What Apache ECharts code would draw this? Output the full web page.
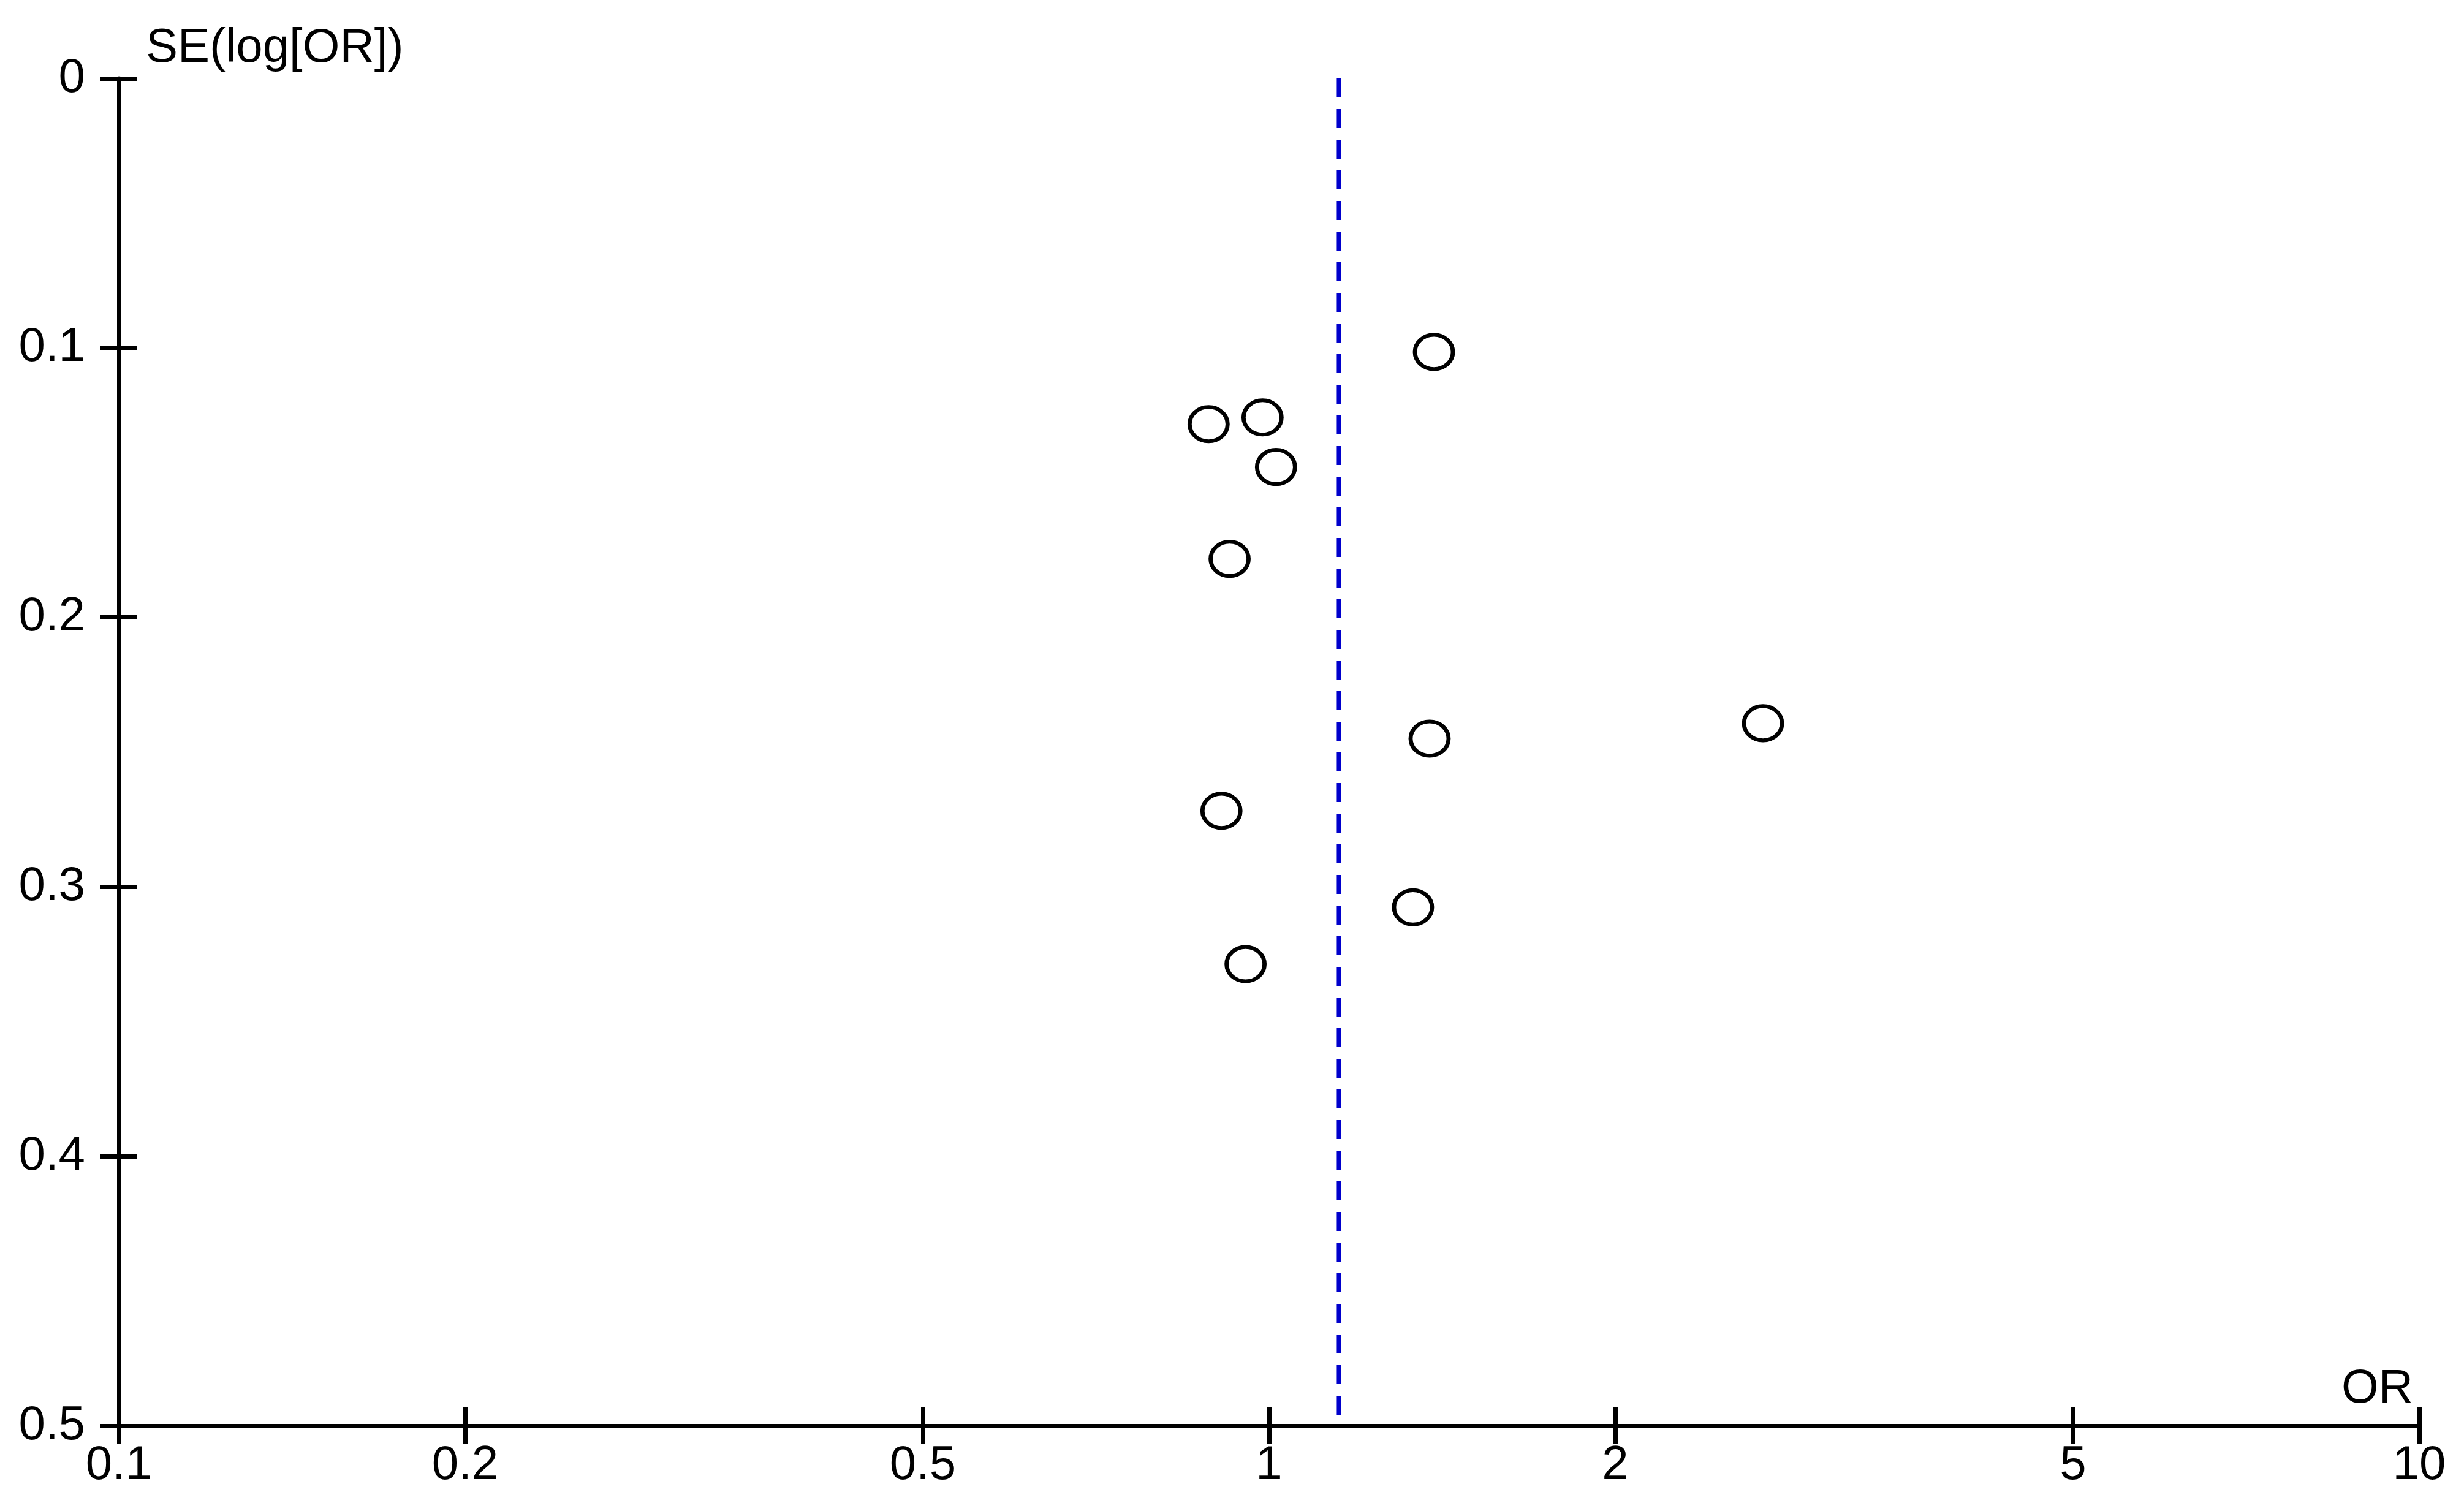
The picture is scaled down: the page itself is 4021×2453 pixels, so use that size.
<!DOCTYPE html>
<html>
<head>
<meta charset="utf-8">
<script src="https://cdn.jsdelivr.net/npm/echarts@6/dist/echarts.min.js"></script>
<style>
  html,body{margin:0;padding:0;background:#fff;}
  #chart{width:4021px;height:2453px;}
</style>
</head>
<body>
<div id="chart"></div>
<script>
// funnel plot: odds ratio vs standard error of log OR
const orValues = [1.391, 0.886, 0.987, 1.014, 0.924, 2.688, 1.379, 0.909, 1.334, 0.954];
const seValues = [0.1015, 0.1283, 0.1258, 0.1442, 0.1783, 0.2393, 0.2450, 0.2718, 0.3076, 0.3287];
const pooledOR = 1.15;
const seRange = [0, 0.5];
const orTicks = [0.1, 0.2, 0.5, 1, 2, 5, 10];

const font = "'Liberation Sans', Arial, sans-serif";
const black = '#000';

const points = orValues.map((v, i) => [v, seValues[i]]);
const pooledLine = seRange.map(s => [pooledOR, s]);

function xAx(inside){
  return {
    type:'log', logBase:10, min:0.1, max:10, position:'bottom', offset:0,
    axisLine:{show:!inside, onZero:false, lineStyle:{color:black, width:7}},
    axisTick:{show:true, inside:inside, length:30, customValues:orTicks, lineStyle:{color:black, width:7}},
    axisLabel:{show:!inside, customValues:orTicks, margin:26, color:black, fontFamily:font, fontSize:78},
    splitLine:{show:false}, minorTick:{show:false}
  };
}
function yAx(inside){
  return {
    type:'value', inverse:true, min:seRange[0], max:seRange[1], interval:0.1, position:'left', offset:0,
    axisLine:{show:!inside, onZero:false, lineStyle:{color:black, width:7}},
    axisTick:{show:true, inside:inside, length:30, lineStyle:{color:black, width:7}},
    axisLabel:{show:!inside, margin:55, color:black, fontFamily:font, fontSize:78},
    splitLine:{show:false}
  };
}

const chart = echarts.init(document.getElementById('chart'));
chart.setOption({
  animation:false,
  backgroundColor:'#fff',
  title:[
    {text:'SE(log[OR])', left:238, top:40, padding:0, textStyle:{color:black, fontFamily:font, fontSize:78, fontWeight:'normal'}},
    {text:'OR', right:83, top:2228, padding:0, textStyle:{color:black, fontFamily:font, fontSize:78, fontWeight:'normal'}}
  ],
  grid:{left:194, right:73, top:128, bottom:126, containLabel:false},
  xAxis:[xAx(false), xAx(true)],
  yAxis:[yAx(false), yAx(true)],
  series:[
    {
      type:'line', xAxisIndex:0, yAxisIndex:0, data:pooledLine, symbol:'none',
      lineStyle:{color:'#0000cc', width:7, type:[31,19]}, z:1
    },
    {
      type:'scatter', xAxisIndex:0, yAxisIndex:0, data:points, symbol:'circle', symbolSize:[62,56],
      itemStyle:{color:'rgba(0,0,0,0)', borderColor:black, borderWidth:6.5, opacity:1}, z:2
    }
  ]
});
window.addEventListener('resize', ()=>chart.resize());
</script>
</body>
</html>
